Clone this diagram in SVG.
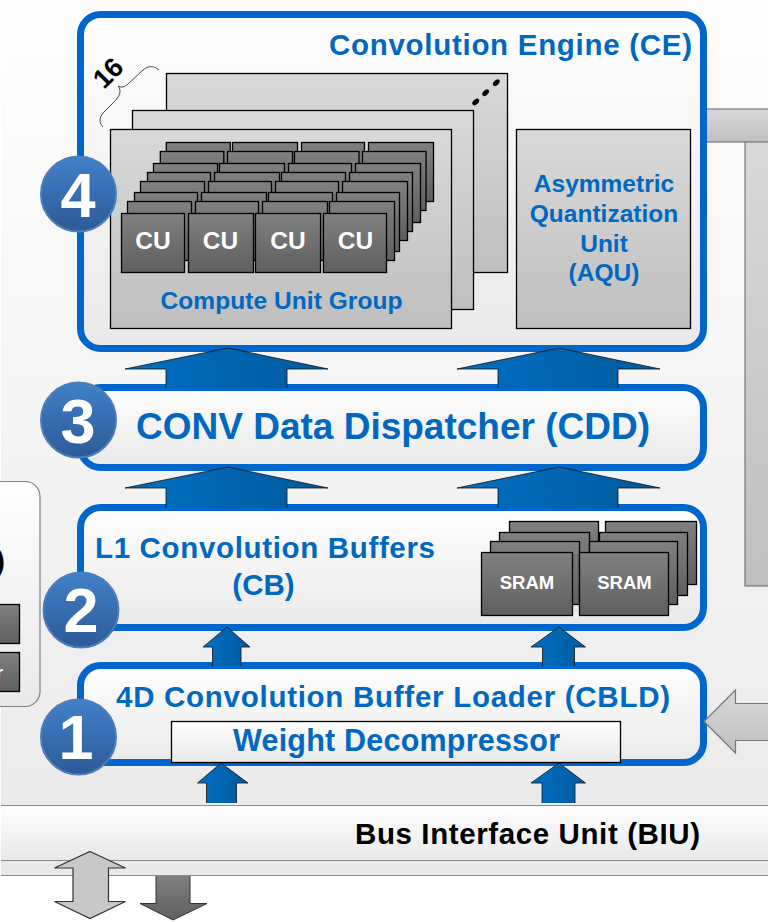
<svg xmlns="http://www.w3.org/2000/svg" width="768" height="922" viewBox="0 0 768 922">
<style>
text{font-family:"Liberation Sans",Arial,sans-serif;font-weight:bold}
.b{fill:#0068c0}
.m{text-anchor:middle}
.box{fill:url(#gBox);stroke:#0066cc;stroke-width:7}
.pan{fill:url(#gPan);stroke:#000;stroke-width:1.3}
.cu{fill:url(#gDark);stroke:#000;stroke-width:1.3}
.w{fill:#fff}
.ar{fill:url(#gBlue);stroke:#111;stroke-width:.8}
.num{fill:#fff;font-size:63px;text-anchor:middle}
.dot{fill:url(#gCirc);stroke:#4f7db8;stroke-width:2}
.gr{fill:url(#gPan);stroke:#777;stroke-width:1.2}
</style>
<defs>
<linearGradient id="gBg" x1="0" y1="0" x2="0" y2="1"><stop offset="0" stop-color="#fefefe"/><stop offset="1" stop-color="#ebebeb"/></linearGradient>
<linearGradient id="gBox" x1="0" y1="0" x2="0" y2="1"><stop offset="0" stop-color="#fefefe"/><stop offset="1" stop-color="#e9e9e9"/></linearGradient>
<linearGradient id="gPan" x1="0" y1="0" x2="0" y2="1"><stop offset="0" stop-color="#d9d9d9"/><stop offset="1" stop-color="#bfbfbf"/></linearGradient>
<linearGradient id="gDark" x1="0" y1="0" x2="0" y2="1"><stop offset="0" stop-color="#808080"/><stop offset="1" stop-color="#5f5f5f"/></linearGradient>
<linearGradient id="gBlue" x1="0" y1="0" x2="1" y2="0"><stop offset="0" stop-color="#0070c4"/><stop offset="1" stop-color="#005a9c"/></linearGradient>
<linearGradient id="gCirc" x1="0" y1="0" x2="0" y2="1"><stop offset="0" stop-color="#4180c8"/><stop offset="1" stop-color="#2d5a98"/></linearGradient>
</defs>
<rect width="768" height="922" fill="#fff"/>
<rect id="background" x="1" y="0" width="767" height="805" fill="url(#gBg)"/>

<g id="left-unit">
<rect x="-20" y="481.5" width="60" height="225" rx="15" fill="url(#gBox)" stroke="#808080" stroke-width="1.2"/>
<text x="-5" y="571" font-size="30" fill="#000">)</text>
<rect class="cu" x="-5" y="604.5" width="24.5" height="39"/>
<rect class="cu" x="-5" y="652.5" width="24.5" height="39"/>
<text class="w" x="-4" y="679" font-size="18">r</text>
</g>

<g id="right-bus">
<rect class="gr" x="745" y="140" width="30" height="446"/>
<rect class="gr" x="704" y="109" width="70" height="33"/>
</g>

<g id="biu">
<rect x="1" y="805" width="767" height="55" fill="url(#gBox)"/>
<rect x="1" y="860" width="767" height="16" fill="#e9e9e9"/>
<path d="M1 805.500H768M1 860.500H768M1 875.500H768" fill="none" stroke="#8c8c8c" stroke-width="1"/>
<text x="355" y="844" font-size="29.500" fill="#000" textLength="345">Bus Interface Unit (BIU)</text>
</g>

<g id="ce">
<rect class="box" x="80.5" y="14.5" width="623" height="334" rx="20"/>
<text class="b" x="329" y="55" font-size="29.500" textLength="363">Convolution Engine (CE)</text>
<text x="0" y="0" font-size="27" fill="#000" transform="translate(104 90) rotate(-45)">16</text>
<path d="M159 70C153 65 148 66 143 70L128 84C125 87 121 88 118 86C122 91 120 96 113 103L103 113C99 118 99 123 103 127" fill="none" stroke="#333" stroke-width=".9"/>
<rect class="pan" x="166.5" y="73.5" width="341" height="199"/>
<g fill="#000"><ellipse cx="475.7" cy="102" rx="4" ry="2.5" transform="rotate(-45 475.7 102)"/><ellipse cx="485.7" cy="92.7" rx="4" ry="2.5" transform="rotate(-45 485.7 92.7)"/><ellipse cx="496.3" cy="82.7" rx="4" ry="2.5" transform="rotate(-45 496.3 82.7)"/></g>
<rect class="pan" x="132.5" y="110.5" width="341" height="199"/>
</g>

<g id="compute-unit-group">
<rect class="pan" x="110.5" y="129.5" width="341" height="199"/>
<g>
<rect class="cu" x="166.3" y="142.5" width="64" height="59"/><rect class="cu" x="232.5" y="142.5" width="65" height="59"/><rect class="cu" x="301.5" y="142.5" width="63" height="59"/><rect class="cu" x="368.5" y="142.5" width="65" height="59"/>
<rect class="cu" x="160.3" y="151.5" width="63.5" height="59"/><rect class="cu" x="227.5" y="151.5" width="65" height="59"/><rect class="cu" x="294.5" y="151.5" width="64.5" height="59"/><rect class="cu" x="362.5" y="151.5" width="63.5" height="59"/>
<rect class="cu" x="153.5" y="163.5" width="64" height="59"/><rect class="cu" x="219.5" y="163.5" width="65" height="59"/><rect class="cu" x="288.5" y="163.5" width="63" height="59"/><rect class="cu" x="355.5" y="163.5" width="65" height="59"/>
<rect class="cu" x="147.5" y="172.5" width="63" height="59"/><rect class="cu" x="214.5" y="172.5" width="65" height="59"/><rect class="cu" x="281.5" y="172.5" width="64" height="59"/><rect class="cu" x="349.5" y="172.5" width="63" height="59"/>
<rect class="cu" x="140.5" y="181.5" width="64" height="59"/><rect class="cu" x="208.5" y="181.5" width="63" height="59"/><rect class="cu" x="275.5" y="181.5" width="63" height="59"/><rect class="cu" x="342.5" y="181.5" width="65" height="59"/>
<rect class="cu" x="134.5" y="192.5" width="63" height="59"/><rect class="cu" x="201.5" y="192.5" width="65" height="59"/><rect class="cu" x="268.5" y="192.5" width="64" height="59"/><rect class="cu" x="336.5" y="192.5" width="63" height="59"/>
<rect class="cu" x="127.5" y="201.5" width="64" height="59"/><rect class="cu" x="195.5" y="201.5" width="63" height="59"/><rect class="cu" x="262.5" y="201.5" width="65" height="59"/><rect class="cu" x="329.5" y="201.5" width="65" height="59"/>
</g>
<g id="cu-1"><rect class="cu" x="121.5" y="213.5" width="63" height="59"/><text class="w m" x="153" y="249" font-size="24.500">CU</text></g>
<g id="cu-2"><rect class="cu" x="188.5" y="213.5" width="65" height="59"/><text class="w m" x="220.5" y="249" font-size="24.500">CU</text></g>
<g id="cu-3"><rect class="cu" x="255.5" y="213.5" width="65" height="59"/><text class="w m" x="288" y="249" font-size="24.500">CU</text></g>
<g id="cu-4"><rect class="cu" x="323.5" y="213.5" width="63" height="59"/><text class="w m" x="355.5" y="249" font-size="24.500">CU</text></g>
<text class="b" x="160.5" y="309" font-size="24.500" textLength="242">Compute Unit Group</text>
</g>

<g id="aqu">
<rect class="pan" x="516.5" y="129.5" width="174" height="199"/>
<g class="b m" font-size="24.500"><text x="604" y="192">Asymmetric</text><text x="604" y="222">Quantization</text><text x="604" y="252">Unit</text><text x="604" y="281">(AQU)</text></g>
</g>

<g id="cdd">
<rect class="box" x="80.5" y="387.5" width="623" height="80" rx="20"/>
<text class="b" x="136" y="439" font-size="37" textLength="514">CONV Data Dispatcher (CDD)</text>
</g>

<g id="cb">
<rect class="box" x="80.5" y="507.5" width="623" height="120" rx="20"/>
<text class="b" x="95" y="558" font-size="29.500" textLength="340">L1 Convolution Buffers</text>
<text class="b m" x="263.5" y="595" font-size="29.500">(CB)</text>
<g id="sram-stack">
<rect class="cu" x="509.5" y="521.5" width="89" height="63"/><rect class="cu" x="605.5" y="521.5" width="91" height="63"/>
<rect class="cu" x="499.5" y="532.5" width="90" height="63"/><rect class="cu" x="599.5" y="532.5" width="88" height="63"/>
<rect class="cu" x="490.5" y="541.5" width="89" height="63"/><rect class="cu" x="589.5" y="541.5" width="88" height="63"/>
<rect class="cu" x="481.5" y="552.5" width="91" height="63"/><rect class="cu" x="579.5" y="552.5" width="89" height="63"/>
<text class="w m" x="527" y="589" font-size="18.500">SRAM</text><text class="w m" x="624.5" y="589" font-size="18.500">SRAM</text>
</g>
</g>

<g id="cbld">
<rect class="box" x="80.5" y="665.5" width="623" height="97" rx="20"/>
<text class="b" x="116" y="707" font-size="29.500" textLength="554">4D Convolution Buffer Loader (CBLD)</text>
</g>
<g id="weight-decompressor">
<rect x="171.5" y="721.5" width="449" height="41" fill="url(#gBox)" stroke="#000" stroke-width="1.3"/>
<text class="b" x="233" y="751" font-size="30.500" textLength="327">Weight Decompressor</text>
</g>

<g id="connectors">
<path class="ar" d="M166 388V369H125L228 348L328 369H287V388"/>
<path class="ar" d="M498 388V369H457L559 348L660 369H618V388"/>
<path class="ar" d="M166 508V488H125L228 467L328 488H287V508"/>
<path class="ar" d="M498 508V488H457L559 467L660 488H618V508"/>
<path class="ar" d="M212.500 666V647H203L227 627L250 647H241V666"/>
<path class="ar" d="M542.500 666V647H531L559 627L585.500 647H574.500V666"/>
<path class="ar" d="M206.500 803V783H197.500L221 763L248 783H236.500V803"/>
<path class="ar" d="M542 803V783H531L559 763L585.500 783H575V803"/>
<path class="gr" d="M775 703.500H735.500V690L704 721.500L735.500 753V740.500H775Z"/>
<path class="gr" style="fill:#c8c8c8;stroke:#333" d="M90 851.500L125.500 868H108.500V901.500H125.500L90 918.500L54.500 901.500H73V868H54.500Z"/>
<path style="fill:url(#gDark);stroke:#333;stroke-width:1" d="M156 876V903.500H140L173 920L207 903.500H190V876"/>
</g>

<g id="badge-4"><circle class="dot" cx="78.500" cy="194" r="37.500"/><text class="num" x="78" y="217">4</text></g>
<g id="badge-3"><circle class="dot" cx="78.500" cy="420" r="37.500"/><text class="num" x="78" y="443">3</text></g>
<g id="badge-2"><circle class="dot" cx="81" cy="610" r="37.500"/><text class="num" x="81" y="632">2</text></g>
<g id="badge-1"><circle class="dot" cx="78.500" cy="737" r="37.500"/><text class="num" x="76" y="759">1</text></g>
</svg>
